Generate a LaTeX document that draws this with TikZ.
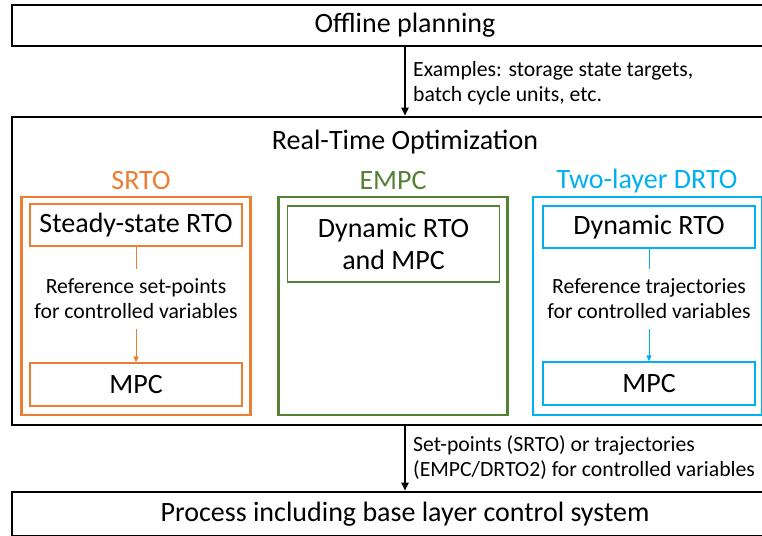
\documentclass[tikz,border=0pt]{standalone}
\usepackage{fontspec}
\setmainfont{Carlito}
\usepackage{tikz}
\usetikzlibrary{arrows.meta, positioning}

\definecolor{srtoorange}{RGB}{237,125,49}
\definecolor{empcgreen}{RGB}{84,130,53}
\definecolor{drtocyan}{RGB}{0,176,240}

\begin{document}
\begin{tikzpicture}[
        x=1pt, y=-1pt,
        bigbox/.style={rectangle, draw=black, line width=2.6pt, minimum width=786pt, inner sep=0pt, font=\fontsize{28}{32}\selectfont},
        groupbox/.style={rectangle, draw=#1, line width=2.5pt, minimum width=229pt, minimum height=218pt, inner sep=0pt},
        innerbox/.style={rectangle, draw=#1, line width=1.2pt, minimum width=212pt, inner sep=0pt, align=center, font=\fontsize{28}{32}\selectfont},
        grouptitle/.style={text=#1, font=\fontsize{28}{32}\selectfont, inner sep=0pt},
        note/.style={align=left, anchor=west, inner sep=0pt, font=\fontsize{21.7}{25}\selectfont},
        refnote/.style={align=center, inner sep=0pt, minimum height=60pt, font=\fontsize{21.7}{25}\selectfont},
        arrow/.style={-{Triangle[length=8pt, width=7pt]}, line width=1.8pt, color=black},
        thinarrow/.style={-{Triangle[length=6pt, width=5pt]}, line width=0.9pt, color=#1},
        thinline/.style={line width=0.9pt, color=#1}
    ]
        \useasboundingbox (0,0) rectangle (762,535);

        \node[bigbox, minimum height=41pt] (offline) at (405,25.5) {Offline planning};
        \node[bigbox, minimum height=308pt] (rto) at (405,271) {};
        \node[font=\fontsize{28}{32}\selectfont, inner sep=0pt] (rtotitle) at (405,142) {Real-Time Optimization};
        \node[bigbox, minimum height=44pt] (process) at (405,514) {Process including base layer control system};

        % SRTO
        \node[groupbox=srtoorange] (srto) at (136,306) {};
        \node[grouptitle=srtoorange] (srtotitle) at (141,181) {SRTO};
        \node[innerbox=srtoorange, minimum height=42pt] (ssrto) at (136,225) {Steady-state RTO};
        \node[refnote] (srtonote) at (136,299) {Reference set-points\\for controlled variables};
        \node[innerbox=srtoorange, minimum height=43pt] (srtompc) at (136,384.5) {MPC};

        % EMPC
        \node[groupbox=empcgreen] (empc) at (393,306) {};
        \node[grouptitle=empcgreen] (empctitle) at (393,181) {EMPC};
        \node[innerbox=empcgreen, minimum height=76pt] (dynmpc) at (393.5,244) {Dynamic RTO\\and MPC};

        % Two-layer DRTO
        \node[groupbox=drtocyan] (drto) at (647.5,306) {};
        \node[grouptitle=drtocyan] (drtotitle) at (647,181) {Two-layer DRTO};
        \node[innerbox=drtocyan, minimum height=42pt] (dynrto) at (649,227) {Dynamic RTO};
        \node[refnote] (drtonote) at (649,299) {Reference trajectories\\for controlled variables};
        \node[innerbox=drtocyan, minimum height=43pt] (drtompc) at (649,383.5) {MPC};

        % Arrows
        \draw[arrow] (offline) -- (rto);
        \node[note] (offlinenote) at (413,83) {Examples: storage state targets,\\batch cycle units, etc.};
        \draw[arrow] (rto) -- (process);
        \node[note] (rtonote) at (413,458) {Set-points (SRTO) or trajectories\\(EMPC/DRTO2) for controlled variables};

        \draw[thinline=srtoorange] (ssrto) -- (srtonote);
        \draw[thinarrow=srtoorange] (srtonote) -- (srtompc);
        \draw[thinline=drtocyan] (dynrto) -- (drtonote);
        \draw[thinarrow=drtocyan] (drtonote) -- (drtompc);
    \end{tikzpicture}
\end{document}
